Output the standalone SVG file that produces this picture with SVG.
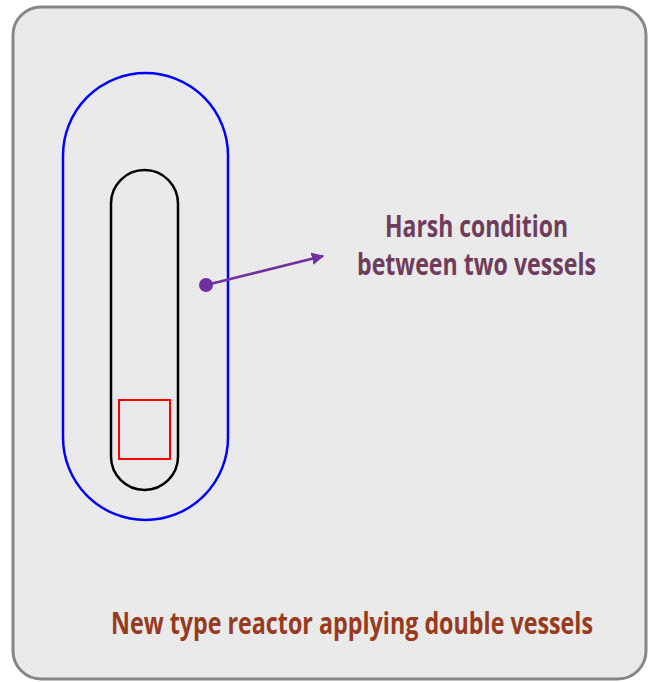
<svg xmlns="http://www.w3.org/2000/svg" width="650" height="682" viewBox="0 0 650 682">
<style>
.lbl{font-family:"Open Sans","Noto Sans","Liberation Sans",sans-serif;font-weight:700;font-size:31px}
.harsh{fill:#703c5c}
.title{fill:#983a1e}
</style>
<defs>
<pattern id="hatch" width="4" height="4" patternUnits="userSpaceOnUse">
<rect width="4" height="4" fill="#ececec"/>
<path d="M0 4 L4 0" stroke="#e2e2e2" stroke-width="1"/>
</pattern>
<marker id="arr" viewBox="0 0 10 10" refX="9" refY="5" markerWidth="5" markerHeight="5" orient="auto" markerUnits="strokeWidth">
<path d="M0 0 L10 5 L0 10 Z" fill="#7030a0"/>
</marker>
</defs>
<rect width="650" height="682" fill="#ffffff"/>
<g id="frame">
<rect x="13" y="7" width="633" height="672" rx="28" fill="url(#hatch)" stroke="#868686" stroke-width="3"/>
</g>
<g id="outer-vessel">
<rect x="63" y="73" width="165" height="447" rx="82.5" fill="none" stroke="#0000ff" stroke-width="2.5"/>
</g>
<g id="inner-vessel">
<rect x="111" y="170" width="67" height="320" rx="33.5" fill="none" stroke="#000000" stroke-width="2.5"/>
</g>
<g id="core">
<rect x="119" y="400" width="51" height="59" fill="none" stroke="#ff0000" stroke-width="2"/>
</g>
<g id="connectors">
<circle cx="206" cy="285" r="7" fill="#7030a0"/>
<line x1="206" y1="285" x2="323" y2="256" stroke="#7030a0" stroke-width="2.5" marker-end="url(#arr)"/>
</g>
<g id="label-harsh">
<text class="lbl harsh" x="385" y="237" textLength="183" lengthAdjust="spacingAndGlyphs">Harsh condition</text>
<text class="lbl harsh" x="357" y="275" textLength="239" lengthAdjust="spacingAndGlyphs">between two vessels</text>
</g>
<g id="label-title">
<text class="lbl title" x="111" y="634" textLength="482" lengthAdjust="spacingAndGlyphs">New type reactor applying double vessels</text>
</g>
</svg>
